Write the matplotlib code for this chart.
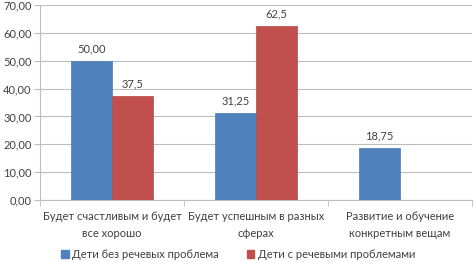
import numpy as np
import matplotlib
matplotlib.use("Agg")
import matplotlib.pyplot as plt
from matplotlib.patches import Patch

categories = ["Будет счастливым и будет\nвсе хорошо",
              "Будет успешным в разных\nсферах",
              "Развитие и обучение\nконкретным вещам"]
series_names = ["Дети без речевых проблема", "Дети с речевыми проблемами"]
no_problems = [50.00, 31.25, 18.75]
with_problems = [37.5, 62.5, None]
labels_no = ["50,00", "31,25", "18,75"]
labels_with = ["37,5", "62,5", ""]
yticks = [0, 10, 20, 30, 40, 50, 60, 70]

plt.rcParams['font.family'] = ['Lato', 'DejaVu Sans']
blue = "#4F81BD"
red = "#C0504D"
grid = "#BEBEBE"
txt = "#404040"
fs = 8

fig = plt.figure(figsize=(4.76, 2.62), dpi=100)
ax = fig.add_axes([40 / 476, 62 / 262, 432 / 476, 195 / 262])

x = np.arange(len(categories))
w = 1 / 3.5
for i in range(len(categories)):
    ax.bar(x[i] - w / 2, no_problems[i], w, color=blue, edgecolor="#4A7AB3", linewidth=0.5, zorder=3)
    ax.text(x[i] - w / 2, no_problems[i] + 2.2, labels_no[i], ha="center", va="bottom",
            fontsize=fs, color=txt)
    if with_problems[i] is not None:
        ax.bar(x[i] + w / 2, with_problems[i], w, color=red, edgecolor="#B84A47", linewidth=0.5, zorder=3)
        ax.text(x[i] + w / 2, with_problems[i] + 2.2, labels_with[i], ha="center", va="bottom",
                fontsize=fs, color=txt)

ax.set_xlim(-0.5, len(categories) - 0.5)
ax.set_ylim(0, 70)
ax.set_yticks(yticks)
ax.set_yticklabels([f"{v:.2f}".replace(".", ",") for v in yticks], fontsize=fs, color=txt)
ax.yaxis.grid(True, color=grid, linewidth=0.8, zorder=0)
ax.set_axisbelow(True)

ax.set_xticks(x)
ax.set_xticklabels(categories, fontsize=fs, color=txt, linespacing=1.7)
ax.tick_params(axis="x", length=0, pad=8)
ax.set_xticks(np.arange(len(categories) + 1) - 0.5, minor=True)
ax.tick_params(axis="x", which="minor", length=4, color=grid)
ax.tick_params(axis="y", length=4, color=grid, pad=2)

for s in ["top", "right"]:
    ax.spines[s].set_visible(False)
ax.spines["left"].set_color(grid)
ax.spines["bottom"].set_color(grid)

handles = [Patch(color=blue), Patch(color=red)]
fig.legend(handles, series_names, loc="center", bbox_to_anchor=(0.5, 8 / 262), ncol=2,
           frameon=False, fontsize=fs, handlelength=0.7, handleheight=0.7,
           handletextpad=0.3, columnspacing=2.5, labelcolor=txt)

fig.savefig("out.png", dpi=100)
